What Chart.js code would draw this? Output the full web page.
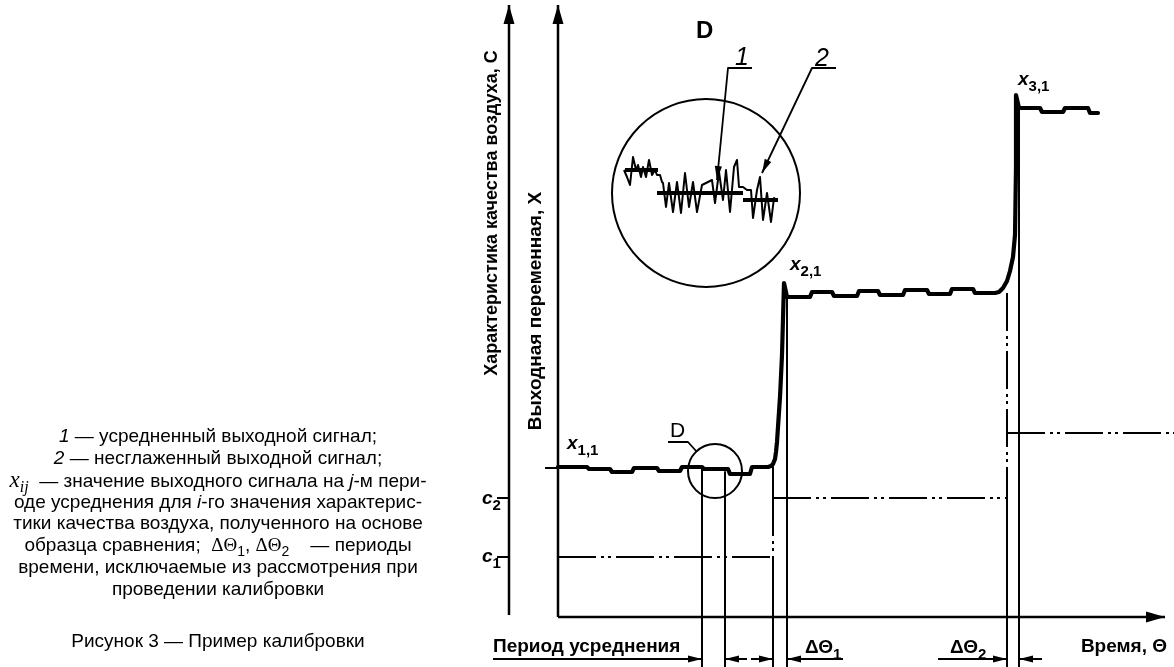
<!DOCTYPE html>
<html lang="ru">
<head>
<meta charset="utf-8">
<title>Рисунок 3 — Пример калибровки</title>
<script src="https://cdn.jsdelivr.net/npm/chart.js@4.4.1/dist/chart.umd.min.js"></script>
<style>
  html, body { margin: 0; padding: 0; background: #fff; }
  #chart { display: block; background: #fff; }
</style>
</head>
<body>
<canvas id="chart" width="1174" height="667"></canvas>
<script>
// picture units: time θ to the right, output X upwards, origin where the axes cross

const averagedSignal = [
  [0,150],[29,150],[31,148],[52,148],[54,145],[74,145],[76,149],[99,149],[101,146],[122,146],
  [124,150],[144,150],[146,148],[170,148],[172,143],[192,143],[194,150],[210,150],
  [213,151],[215,153],[217,158],[218,165],[219,175],[220,190],[222,220],[224,262],[226,334],
  [229,320],[252,320],[254,325],[274,325],[276,321],[299,321],[301,326],[320,326],[322,322],
  [345,322],[347,327],[369,327],[371,323],[392,323],[394,328],[415,328],[417,324],[437,324],
  [441,325],[445,329],[449,336],[452,346],[455,360],[457,382],[458,450],[458,522],
  [461,509],[482,509],[484,505],[505,505],[507,509],[530,509],[532,504],[540,504]
];
const leadIn = [[-13,149],[0,149]];

const axisC = [[-49,2],[-49,612]];
const axisX = [[0,0],[0,612]];
const axisTime = [[0,0],[607,0]];
const tickC1 = [[-61,60],[-49,60]];
const tickC2 = [[-61,119],[-49,119]];

const levelC1 = [[0,60],[215,60]];
const levelC2 = [[215,119],[449,119]];
const levelC3 = [[449,184],[616,184]];

const yBottom = -50;
// thin boundary lines: [θ, top X]
const boundaries = [[144,150],[167,145],[229,320],[461,509]];
const stepLine1 = [[[215,150],[215,119]], [[215,119],[215,60]], [[215,60],[215,yBottom]]];
const stepLine2 = [[[449,324],[449,119]], [[449,119],[449,yBottom]]];

// period arrows below the time axis, tip last
const periodArrows = [
  [[-65,-42],[144,-42]],
  [[189,-42],[167,-42]],
  [[193,-42],[215,-42]],
  [[285,-42],[229,-42]],
  [[380,-42],[449,-42]],
  [[484,-42],[461,-42]]
];

// detail D
const insetAveraged = [
  [[67,447],[100,447]],
  [[99,424],[185,424]],
  [[185,417],[220,417]]
];
const insetRaw = [
  [66,447],[69,440],[72,432],[75,460],[78,447],[80,452],[83,440],[85,450],[88,440],[91,457],
  [94,442],[97,447],[99,442],[102,442],[104,435],[105,434],[108,410],[111,434],[115,405],
  [119,435],[123,404],[127,444],[131,410],[135,435],[139,405],[144,432],[148,434],[150,435],
  [154,437],[157,414],[161,445],[165,417],[168,447],[172,405],[176,450],[179,457],[181,430],
  [185,430],[189,427],[193,427],[195,399],[199,427],[202,440],[205,397],[209,424],[213,395],
  [216,419],[219,417]
];
const leader1 = [[194,549],[170,549],[159,437]];
const leader2 = [[278,549],[254,549],[204,444]];
const leaderD = [[110,175],[130,175],[139,165]];
const circles = [[148,424,94],[157,146,27]];

const legendLines = [
  [['i','1'],['r',' — усредненный выходной сигнал;']],
  [['i','2'],['r',' — несглаженный выходной сигнал;']],
  [['xi','x'],['xsub','ij'],['r','  — значение выходного сигнала на '],['i','j'],['r','-м пери-']],
  [['r','оде усреднения для '],['i','i'],['r','-го значения характерис-']],
  [['r','тики качества воздуха, полученного на основе']],
  [['r','образца сравнения;  '],['g','ΔΘ'],['sub','1'],['r',', '],['g','ΔΘ'],['sub','2'],['r','    — периоды']],
  [['r','времени, исключаемые из рассмотрения при']],
  [['r','проведении калибровки']]
];
const legendBaselines = [175,153,130,109,88,66,44,22];
const caption = 'Рисунок 3 — Пример калибровки';
const axisCTitle = 'Характеристика качества воздуха, С';
const axisXTitle = 'Выходная переменная, X';
const timeTitle = 'Время, Θ';
const periodTitle = 'Период усреднения';

const SANS = '"Liberation Sans", Arial, sans-serif';
const SERIF = '"Liberation Serif", "Times New Roman", serif';
const fonts = {
  r: '19px ' + SANS,
  i: 'italic 19px ' + SANS,
  sub: '14px ' + SANS,
  g: '19px ' + SERIF,
  xi: 'italic 23px ' + SERIF,
  xsub: 'italic 16px ' + SERIF,
  b: 'bold 19px ' + SANS,
  bsub: 'bold 15px ' + SANS,
  bi: 'italic bold 19px ' + SANS
};
const subDrop = { sub: 5, xsub: 5, bsub: 6 };

function line(points, width, extra) {
  return Object.assign({
    data: points.map(([x, y]) => ({ x, y })),
    showLine: true,
    borderColor: '#000',
    borderWidth: width,
    pointRadius: 0,
    fill: false,
    tension: 0,
    clip: false,
    borderJoinStyle: 'round',
    borderCapStyle: 'butt'
  }, extra || {});
}

const dashDot = [38, 5, 3, 4, 3, 5];

const datasets = [
  line(axisC, 2.5, { arrow: 'big' }),
  line(axisX, 2.5, { arrow: 'big' }),
  line(axisTime, 2.5, { arrow: 'big' }),
  line(tickC1, 2),
  line(tickC2, 2),
  line(levelC1, 2, { borderDash: dashDot }),
  line(levelC2, 2, { borderDash: dashDot }),
  line(levelC3, 2, { borderDash: dashDot }),
  line(leadIn, 2),
  line(stepLine1[0], 2), line(stepLine1[1], 2, { borderDash: dashDot }), line(stepLine1[2], 2),
  line(stepLine2[0], 2, { borderDash: dashDot }), line(stepLine2[1], 2),
  line(leader1, 1.8, { arrow: 'small' }),
  line(leader2, 1.8, { arrow: 'small' }),
  line(leaderD, 1.8),
  line(insetRaw, 2),
  line(averagedSignal, 4.2, { borderCapStyle: 'round' })
];
boundaries.forEach(([t, top]) => datasets.push(line([[t, top], [t, yBottom]], 2)));
periodArrows.forEach(a => datasets.push(line(a, 2, { arrow: 'small' })));
insetAveraged.forEach(a => datasets.push(line(a, 4.2)));

function drawRuns(ctx, x, y, runs, align) {
  let w = 0;
  runs.forEach(([f, t]) => { ctx.font = fonts[f]; w += ctx.measureText(t).width; });
  let cx = align === 'center' ? x - w / 2 : (align === 'right' ? x - w : x);
  runs.forEach(([f, t]) => {
    ctx.font = fonts[f];
    ctx.fillText(t, cx, y + (subDrop[f] || 0));
    cx += ctx.measureText(t).width;
  });
}

const sketchPlugin = {
  id: 'sketch',
  afterDatasetsDraw(chart) {
    const ctx = chart.ctx;
    const xs = chart.scales.x, ys = chart.scales.y;
    const px = v => xs.getPixelForValue(v);
    const py = v => ys.getPixelForValue(v);
    ctx.save();
    ctx.fillStyle = '#000';
    ctx.strokeStyle = '#000';

    // arrowheads at the last point of marked lines
    chart.data.datasets.forEach(ds => {
      if (!ds.arrow) return;
      const n = ds.data.length;
      const a = ds.data[n - 2], b = ds.data[n - 1];
      const x1 = px(a.x), y1 = py(a.y), x2 = px(b.x), y2 = py(b.y);
      const ang = Math.atan2(y2 - y1, x2 - x1);
      const len = ds.arrow === 'big' ? 19 : 14;
      const half = ds.arrow === 'big' ? 5.5 : 3.6;
      ctx.save();
      ctx.translate(x2, y2);
      ctx.rotate(ang);
      ctx.beginPath();
      ctx.moveTo(0, 0);
      ctx.lineTo(-len, -half);
      ctx.lineTo(-len, half);
      ctx.closePath();
      ctx.fill();
      ctx.restore();
    });

    // detail circles
    ctx.lineWidth = 2;
    circles.forEach(([t, v, r]) => {
      ctx.beginPath();
      ctx.arc(px(t), py(v), px(t + r) - px(t), 0, Math.PI * 2);
      ctx.stroke();
    });

    ctx.textBaseline = 'alphabetic';
    ctx.textAlign = 'left';

    // legend block
    legendLines.forEach((runs, i) => drawRuns(ctx, px(-340), py(legendBaselines[i]), runs, 'center'));
    drawRuns(ctx, px(-340), py(-30), [['r', caption]], 'center');

    // axis titles
    drawRuns(ctx, px(-65), py(-35), [['b', periodTitle]], 'left');
    drawRuns(ctx, px(247), py(-36), [['b', 'ΔΘ'], ['bsub', '1']], 'left');
    drawRuns(ctx, px(392), py(-36), [['b', 'ΔΘ'], ['bsub', '2']], 'left');
    drawRuns(ctx, px(609), py(-35), [['b', timeTitle]], 'right');

    // level labels
    drawRuns(ctx, px(-76), py(113), [['bi', 'c'], ['bsub', '2']], 'left');
    drawRuns(ctx, px(-76), py(55), [['bi', 'c'], ['bsub', '1']], 'left');
    drawRuns(ctx, px(9), py(168), [['bi', 'x'], ['bsub', '1,1']], 'left');
    drawRuns(ctx, px(232), py(347), [['bi', 'x'], ['bsub', '2,1']], 'left');
    drawRuns(ctx, px(460), py(532), [['bi', 'x'], ['bsub', '3,1']], 'left');

    // callouts
    ctx.font = '21px ' + SANS;
    ctx.fillText('D', px(112), py(180));
    ctx.font = 'bold 24px ' + SANS;
    ctx.fillText('D', px(138), py(579));
    ctx.font = 'italic 25px ' + SANS;
    ctx.fillText('1', px(177), py(552));
    ctx.fillText('2', px(257), py(551));

    // rotated axis titles
    ctx.textAlign = 'center';
    ctx.textBaseline = 'middle';
    [[axisCTitle, -66, 404, 18], [axisXTitle, -22, 306, 19]].forEach(([t, th, v, size]) => {
      ctx.save();
      ctx.translate(px(th), py(v));
      ctx.rotate(-Math.PI / 2);
      ctx.font = 'bold ' + size + 'px ' + SANS;
      ctx.fillText(t, 0, 0);
      ctx.restore();
    });
    ctx.restore();
  }
};

new Chart(document.getElementById('chart'), {
  type: 'scatter',
  data: { datasets },
  options: {
    responsive: false,
    animation: false,
    events: [],
    layout: { padding: 0 },
    plugins: { legend: { display: false }, tooltip: { enabled: false } },
    scales: {
      x: { type: 'linear', min: -558, max: 616, display: false },
      y: { type: 'linear', min: -50, max: 617, display: false }
    }
  },
  plugins: [sketchPlugin]
});
</script>
</body>
</html>
